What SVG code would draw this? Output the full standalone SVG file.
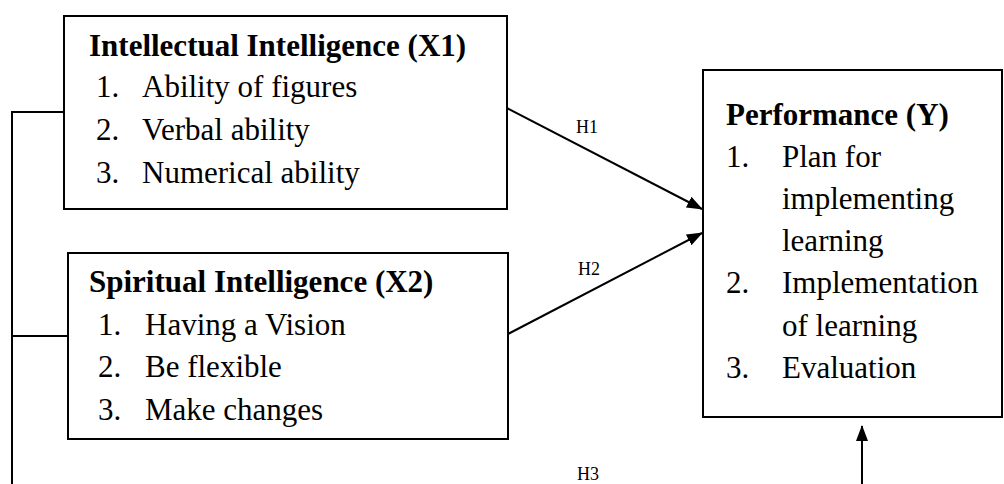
<svg xmlns="http://www.w3.org/2000/svg" width="1004" height="484" viewBox="0 0 1004 484">
<style>
.box{fill:#fff;stroke:#000;stroke-width:2}
.ln{fill:none;stroke:#000;stroke-width:2}
.t{font-family:"Liberation Serif","Times New Roman",serif;font-size:31px;fill:#000}
.b{font-weight:bold}
.h{font-family:"Liberation Serif","Times New Roman",serif;font-size:18px;fill:#000}
</style>
<defs>
<marker id="ah" markerWidth="16" markerHeight="12" refX="15" refY="6" orient="auto" markerUnits="userSpaceOnUse">
<path d="M0,0 L16,6 L0,12 Z" fill="#000"/>
</marker>
</defs>
<rect width="1004" height="484" fill="#fff"/>
<g id="connectors">
<polyline class="ln" points="64,112 12,112 12,484"/>
<line class="ln" x1="12" y1="336" x2="67" y2="336"/>
<line class="ln" x1="507" y1="108" x2="702" y2="209" marker-end="url(#ah)"/>
<line class="ln" x1="508" y1="334" x2="702" y2="233" marker-end="url(#ah)"/>
<line class="ln" x1="862" y1="484" x2="862" y2="426" marker-end="url(#ah)"/>
<text class="h" x="576" y="133">H1</text>
<text class="h" x="578" y="275">H2</text>
<text class="h" x="577" y="480">H3</text>
</g>
<g id="x1">
<rect class="box" x="64" y="16" width="443" height="193"/>
<text class="t b" x="89" y="56">Intellectual Intelligence (X1)</text>
<text class="t" x="96" y="97">1.</text><text class="t" x="142" y="97">Ability of figures</text>
<text class="t" x="96" y="140">2.</text><text class="t" x="142" y="140">Verbal ability</text>
<text class="t" x="96" y="183">3.</text><text class="t" x="142" y="183">Numerical ability</text>
</g>
<g id="x2">
<rect class="box" x="68" y="253" width="440" height="186"/>
<text class="t b" x="89" y="292">Spiritual Intelligence (X2)</text>
<text class="t" x="98" y="335">1.</text><text class="t" x="145" y="335">Having a Vision</text>
<text class="t" x="98" y="377">2.</text><text class="t" x="145" y="377">Be flexible</text>
<text class="t" x="98" y="420">3.</text><text class="t" x="145" y="420">Make changes</text>
</g>
<g id="y">
<rect class="box" x="703" y="70" width="299" height="347"/>
<text class="t b" x="726" y="125">Performance (Y)</text>
<text class="t" x="726" y="167">1.</text><text class="t" x="782" y="167">Plan for</text>
<text class="t" x="782" y="209">implementing</text>
<text class="t" x="782" y="251">learning</text>
<text class="t" x="726" y="293">2.</text><text class="t" x="782" y="293">Implementation</text>
<text class="t" x="782" y="336">of learning</text>
<text class="t" x="726" y="378">3.</text><text class="t" x="782" y="378">Evaluation</text>
</g>
</svg>
